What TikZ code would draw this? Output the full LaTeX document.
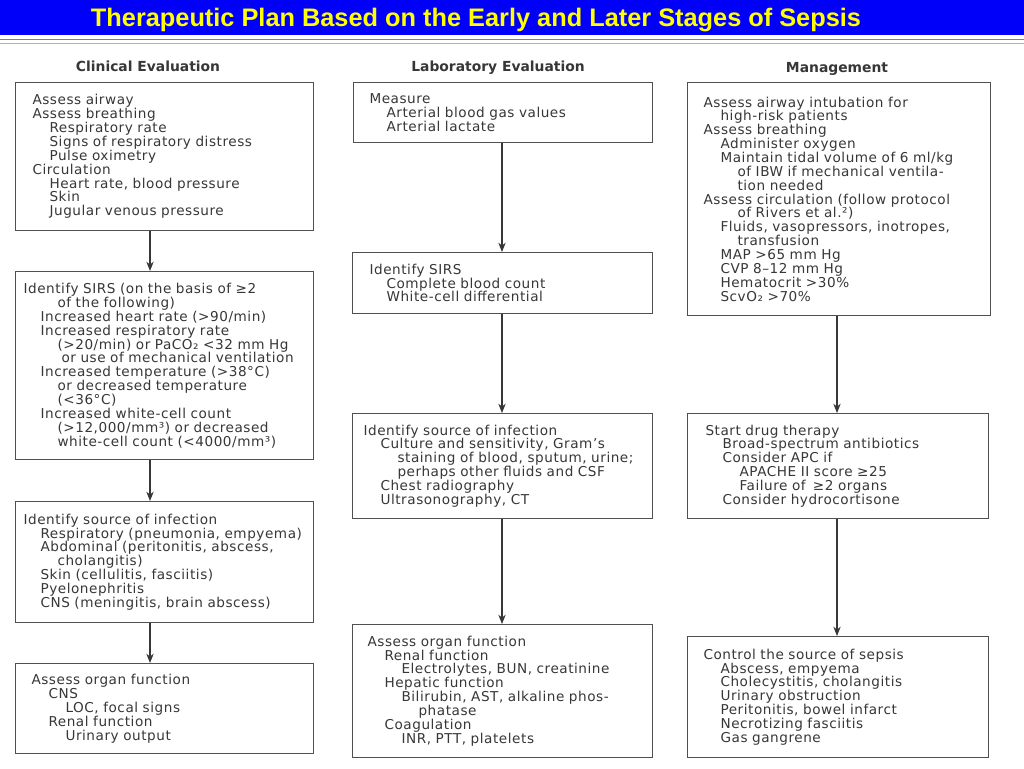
\documentclass[tikz,border=0pt]{standalone}
\usepackage{fontspec}
\usepackage{xcolor}
\usetikzlibrary{arrows.meta}
\setmainfont{DejaVu Sans}
\newfontfamily\titlefont{Liberation Sans}
\newfontfamily\boxfam[LetterSpace=4]{DejaVu Sans}
\definecolor{titleblue}{RGB}{0,0,250}
\definecolor{titleyellow}{RGB}{255,255,0}
\definecolor{inkgray}{RGB}{55,55,55}
\definecolor{framegray}{RGB}{80,80,80}
\newcommand{\ind}{\hspace*{12.75pt}}
\newcommand{\boxfont}{\boxfam\fontsize{10.2}{10.4}\selectfont\lineskiplimit=-10pt\relax\lineskip=0pt\relax}

\begin{document}
\begin{tikzpicture}[x=0.75pt, y=-0.75pt,
    box/.style={draw=framegray, line width=0.8pt, anchor=north west, align=left,
      inner ysep=0pt, text=inkgray, font=\boxfont},
    head/.style={text=inkgray, anchor=base, font=\bfseries\fontsize{10.4}{12}\selectfont},
    arr/.style={draw=inkgray, line width=0.8pt, -{Stealth[length=7pt, width=5.5pt]}}]

    \useasboundingbox (0,0) rectangle (1024,768);
    \fill[white] (0,0) rectangle (1024,768);

    % title bar
    \fill[titleblue] (0,0) rectangle (1024,35);
    \node[text=titleyellow, font=\titlefont\bfseries\fontsize{19}{22}\selectfont] (title) at (476,20)
      {Therapeutic Plan Based on the Early and Later Stages of Sepsis};
    \draw[gray, line width=1.2pt] (0,39.5) -- (1024,39.5);
    \draw[gray!60, line width=0.6pt] (0,43) -- (1024,43);

    % column heads
    \node[head] (hcl) at (148,71) {Clinical Evaluation};
    \node[head] (hlab) at (498,71) {Laboratory Evaluation};
    \node[head] (hman) at (837,72) {Management};

    % clinical evaluation
    \node[box, inner xsep=12.75pt, text width=198pt, minimum height=111pt] (cl1) at (15,82)
      {Assess airway\\
       Assess breathing\\
       \ind Respiratory rate\\
       \ind Signs of respiratory distress\\
       \ind Pulse oximetry\\
       Circulation\\
       \ind Heart rate, blood pressure\\
       \ind Skin\\
       \ind Jugular venous pressure};
    \node[box, inner xsep=6pt, text width=211.5pt, minimum height=141pt] (cl2) at (15,271)
      {Identify SIRS (on the basis of ≥2\\
       \ind\ind of the following)\\
       \ind Increased heart rate (>90/min)\\
       \ind Increased respiratory rate\\
       \ind\ind (>20/min) or PaCO₂ <32 mm Hg\\
       \ind\ind\hspace*{3pt}or use of mechanical ventilation\\
       \ind Increased temperature (>38°C)\\
       \ind\ind or decreased temperature\\
       \ind\ind (<36°C)\\
       \ind Increased white-cell count\\
       \ind\ind (>12,000/mm³) or decreased\\
       \ind\ind white-cell count (<4000/mm³)};
    \node[box, inner xsep=6pt, text width=211.5pt, minimum height=90.75pt] (cl3) at (15,501)
      {Identify source of infection\\
       \ind Respiratory (pneumonia, empyema)\\
       \ind Abdominal (peritonitis, abscess,\\
       \ind\ind cholangitis)\\
       \ind Skin (cellulitis, fasciitis)\\
       \ind Pyelonephritis\\
       \ind CNS (meningitis, brain abscess)};
    \node[box, inner xsep=12pt, text width=199.5pt, minimum height=67.5pt] (cl4) at (15,663)
      {Assess organ function\\
       \ind CNS\\
       \ind\ind LOC, focal signs\\
       \ind Renal function\\
       \ind\ind Urinary output};

    % laboratory evaluation
    \node[box, inner xsep=12pt, text width=200.25pt, minimum height=45pt] (lab1) at (353,82)
      {Measure\\
       \ind Arterial blood gas values\\
       \ind Arterial lactate};
    \node[box, inner xsep=12.75pt, text width=199.5pt, minimum height=45.75pt] (lab2) at (352,252)
      {Identify SIRS\\
       \ind Complete blood count\\
       \ind White-cell differential};
    \node[box, inner xsep=8.25pt, text width=208.5pt, minimum height=78.75pt] (lab3) at (352,413)
      {Identify source of infection\\
       \ind Culture and sensitivity, Gram’s\\
       \ind\ind staining of blood, sputum, urine;\\
       \ind\ind perhaps other fluids and CSF\\
       \ind Chest radiography\\
       \ind Ultrasonography, CT};
    \node[box, inner xsep=11.25pt, text width=202.5pt, minimum height=99.75pt] (lab4) at (352,624)
      {Assess organ function\\
       \ind Renal function\\
       \ind\ind Electrolytes, BUN, creatinine\\
       \ind Hepatic function\\
       \ind\ind Bilirubin, AST, alkaline phos-\\
       \ind\ind\ind phatase\\
       \ind Coagulation\\
       \ind\ind INR, PTT, platelets};

    % management
    \node[box, inner xsep=12pt, text width=203.25pt, minimum height=174.75pt] (man1) at (687,82)
      {Assess airway intubation for\\
       \ind high-risk patients\\
       Assess breathing\\
       \ind Administer oxygen\\
       \ind Maintain tidal volume of 6 ml/kg\\
       \ind\ind of IBW if mechanical ventila-\\
       \ind\ind tion needed\\
       Assess circulation (follow protocol\\
       \ind\ind of Rivers et al.²)\\
       \ind Fluids, vasopressors, inotropes,\\
       \ind\ind transfusion\\
       \ind MAP >65 mm Hg\\
       \ind CVP 8–12 mm Hg\\
       \ind Hematocrit >30\%\\
       \ind ScvO₂ >70\%};
    \node[box, inner xsep=13.5pt, text width=198.75pt, minimum height=78.75pt] (man2) at (687,413)
      {Start drug therapy\\
       \ind Broad-spectrum antibiotics\\
       \ind Consider APC if\\
       \ind\ind APACHE II score ≥25\\
       \ind\ind Failure of \hspace{2pt}≥2 organs\\
       \ind Consider hydrocortisone};
    \node[box, inner xsep=12pt, text width=201.75pt, minimum height=90.75pt] (man3) at (687,636)
      {Control the source of sepsis\\
       \ind Abscess, empyema\\
       \ind Cholecystitis, cholangitis\\
       \ind Urinary obstruction\\
       \ind Peritonitis, bowel infarct\\
       \ind Necrotizing fasciitis\\
       \ind Gas gangrene};

    % arrows
    \coordinate (xcl) at (150,0);
    \coordinate (xlab) at (502,0);
    \coordinate (xman) at (837,0);
    \draw[arr] (cl1.south -| xcl) -- (cl2.north -| xcl);
    \draw[arr] (cl2.south -| xcl) -- (cl3.north -| xcl);
    \draw[arr] (cl3.south -| xcl) -- (cl4.north -| xcl);
    \draw[arr] (lab1.south -| xlab) -- (lab2.north -| xlab);
    \draw[arr] (lab2.south -| xlab) -- (lab3.north -| xlab);
    \draw[arr] (lab3.south -| xlab) -- (lab4.north -| xlab);
    \draw[arr] (man1.south -| xman) -- (man2.north -| xman);
    \draw[arr] (man2.south -| xman) -- (man3.north -| xman);
\end{tikzpicture}
\end{document}
